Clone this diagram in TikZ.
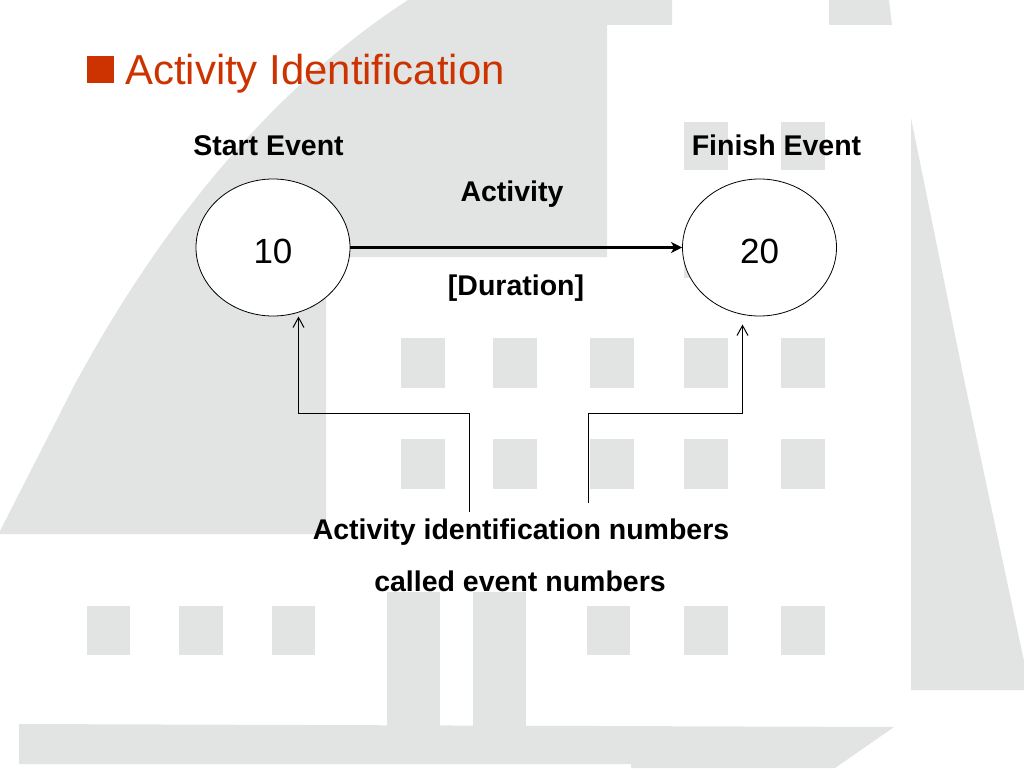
\documentclass[tikz,border=0pt]{standalone}
\usepackage{fontspec}
\setmainfont{Liberation Sans}
\usetikzlibrary{shapes.geometric,arrows.meta}
\definecolor{bggrey}{HTML}{E2E4E3}
\definecolor{titlered}{HTML}{CC3300}
\tikzset{
  bgshape/.style={fill=bggrey,draw=none},
  eventnode/.style={draw=black,line width=0.8pt,fill=white,ellipse,minimum width=154pt,minimum height=137pt,inner sep=0pt,text height=31pt,text depth=0pt,font=\fontsize{35}{35}\selectfont},
  boldlabel/.style={anchor=base,inner sep=0pt,font=\fontsize{28.5}{30}\selectfont\bfseries},
  thinarrow/.style={draw=black,line width=1pt,-{Straight Barb[length=10pt,width=11pt,line width=1pt]}},
  mainarrow/.style={draw=black,line width=3.6pt,-{Stealth[length=11pt,width=11pt,inset=3pt]}}
}
\newcommand{\winrect}[4]{\fill[bgshape] (#1,#3) rectangle (#2,#4);}
\begin{document}
\begin{tikzpicture}[x=1pt,y=-1pt]
\useasboundingbox (0,0) rectangle (1024,768);
\fill[white] (0,0) rectangle (1024,768);
% background building
\fill[bgshape] (408,0) .. controls (300,70) and (180,190) .. (75,384) -- (0,531) -- (0,534) -- (326,534) -- (326,257) -- (607,257) -- (607,25) -- (672,25) -- (672,0) -- cycle;
\fill[bgshape] (829,0) -- (889,0) -- (892,25) -- (829,25) -- cycle;
\fill[bgshape] (911,118) -- (965,384) -- (1024,661) -- (1024,690) -- (911,690) -- cycle;
\fill[bgshape] (19,724) -- (894,727) -- (835,768) -- (631,768) -- (631,764) -- (19,764) -- cycle;
\fill[bgshape] (387,592) rectangle (440,726);
\fill[bgshape] (473,592) rectangle (526,726);
% windows
\winrect{684}{728}{122}{170}
\winrect{781}{825}{122}{170}
\winrect{684}{728}{230}{278}
\winrect{781}{825}{230}{278}
\foreach \xa/\xb in {401/445,493/537,590/634,684/728,781/825}{
  \winrect{\xa}{\xb}{338}{388}
  \winrect{\xa}{\xb}{439}{489}
}
\foreach \xa/\xb in {87/130,179/223,272/315,587/630,684/728,781/825}{
  \winrect{\xa}{\xb}{606}{655}
}
% title
\node[fill=titlered,minimum size=27pt,inner sep=0pt] (bullet) at (100.5,69.5) {};
\node[anchor=base west,inner sep=0pt,text=titlered,font=\fontsize{41.9}{42}\selectfont] (title) at (125,84) {Activity Identification};
% events
\node[eventnode] (ten) at (273,247.5) {10};
\node[eventnode] (twenty) at (759.5,247.5) {20};
\draw[mainarrow] (ten) -- (twenty);
% labels
\node[boldlabel] (startlbl) at (268.5,155) {Start Event};
\node[boldlabel] (finishlbl) at (776.5,155) {Finish Event};
\node[boldlabel] (actlbl) at (512,201.5) {Activity};
\node[boldlabel] (durlbl) at (516,295) {[Duration]};
\node[boldlabel] (idlbl) at (521,539) {Activity identification numbers};
\node[boldlabel] (calledlbl) at (520,591) {called event numbers};
% pointers
\coordinate (leftfoot) at (469.5,512);
\coordinate (lefttip) at (298.5,316.5);
\coordinate (rightfoot) at (588.5,503);
\coordinate (righttip) at (742.5,324.5);
\draw[thinarrow] (leftfoot) -- (469.5,413.5) -- (298.5,413.5) -- (lefttip);
\draw[thinarrow] (rightfoot) -- (588.5,413.5) -- (742.5,413.5) -- (righttip);
\end{tikzpicture}
\end{document}
